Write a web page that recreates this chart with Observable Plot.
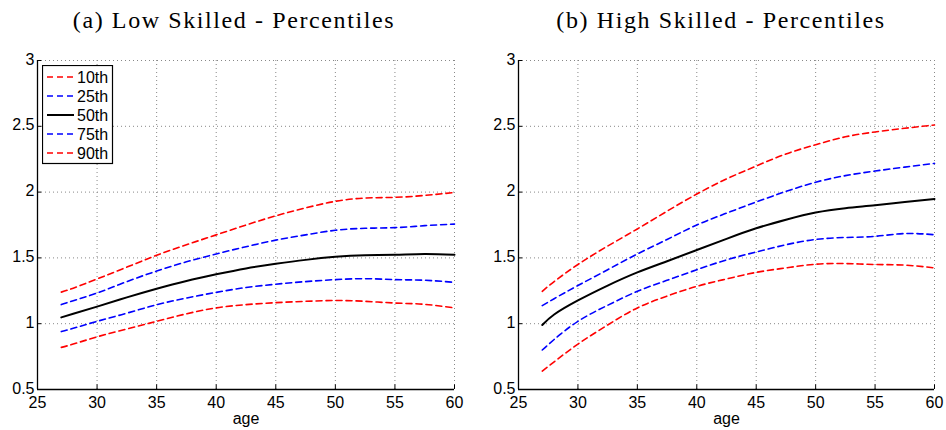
<!DOCTYPE html>
<html><head><meta charset="utf-8">
<script src="https://cdn.jsdelivr.net/npm/d3@7"></script>
<script src="https://cdn.jsdelivr.net/npm/@observablehq/plot@0.6"></script>
<style>
body{margin:0;background:#fff;}
#wrap{position:relative;width:946px;height:430px;overflow:hidden;background:#fff;}
.title{position:absolute;top:8px;line-height:24px;font-family:"Liberation Serif","Times New Roman",serif;font-size:24px;letter-spacing:1.6px;white-space:nowrap;color:#000;transform:translateX(-50%);}
.panel{position:absolute;top:45px;}
.legend{position:absolute;left:42px;top:65px;}
</style></head><body>
<div id="wrap"></div>
<script>
const ages = [27,28,30,32.5,35,37.5,40,42.5,45,47.5,50,52.5,55,57.5,60];
const percentiles = ["10th","25th","50th","75th","90th"];
const pctColors = ["#ff0000","#0000ff","#000000","#0000ff","#ff0000"];
const titles = ["(a) Low Skilled - Percentiles","(b) High Skilled - Percentiles"];
const xTicks = [25,30,35,40,45,50,55,60];
const yTicks = [0.5,1,1.5,2,2.5,3];

// Low skilled
const low10 = [0.82,0.845,0.90,0.96,1.018,1.075,1.12,1.145,1.16,1.17,1.176,1.17,1.157,1.147,1.12];
const low25 = [0.94,0.965,1.018,1.08,1.144,1.195,1.238,1.275,1.30,1.32,1.335,1.342,1.335,1.33,1.314];
const low50 = [1.048,1.075,1.13,1.20,1.266,1.325,1.375,1.42,1.455,1.485,1.508,1.52,1.524,1.53,1.524];
const low75 = [1.145,1.175,1.233,1.32,1.40,1.47,1.53,1.585,1.635,1.675,1.71,1.725,1.73,1.745,1.757];
const low90 = [1.24,1.27,1.34,1.43,1.52,1.60,1.675,1.75,1.82,1.88,1.93,1.955,1.96,1.975,1.997];

// High skilled
const high10 = [0.64,0.71,0.845,0.99,1.12,1.21,1.284,1.34,1.39,1.424,1.452,1.457,1.45,1.445,1.424];
const high25 = [0.80,0.88,1.018,1.14,1.246,1.33,1.41,1.485,1.545,1.60,1.64,1.655,1.664,1.685,1.676];
const high50 = [0.99,1.07,1.177,1.29,1.39,1.475,1.56,1.645,1.725,1.79,1.845,1.878,1.90,1.925,1.948];
const high75 = [1.137,1.19,1.29,1.41,1.53,1.64,1.75,1.84,1.925,2.005,2.075,2.125,2.16,2.19,2.218];
const high90 = [1.246,1.32,1.45,1.59,1.72,1.855,1.985,2.10,2.198,2.29,2.36,2.42,2.457,2.485,2.51];

const panels = [
  {series:[low10,low25,low50,low75,low90], left:0, width:473, ml:37, mr:19, titleX:234},
  {series:[high10,high25,high50,high75,high90], left:473, width:473, ml:45, mr:12, titleX:721}
];

const wrap = document.getElementById("wrap");

panels.forEach((p, pi) => {
  const t = document.createElement("div");
  t.className = "title";
  t.textContent = titles[pi];
  t.style.left = p.titleX + "px";
  wrap.appendChild(t);

  const rows = [];
  p.series.forEach((vals, si) => vals.forEach((v, i) => rows.push({age: ages[i], value: v, pct: percentiles[si]})));

  const lineMarks = percentiles.map((pc, si) => Plot.line(rows.filter(d => d.pct === pc), {
    x: "age", y: "value", stroke: pctColors[si], curve: "natural",
    strokeWidth: pc === "50th" ? 2 : 1.6,
    strokeDasharray: pc === "50th" ? null : "6,4"
  }));

  const chart = Plot.plot({
    width: p.width, height: 385,
    marginLeft: p.ml, marginRight: p.mr, marginTop: 15, marginBottom: 41,
    style: {fontFamily: "'Liberation Sans', Arial, sans-serif", fontSize: "16px", color: "#000", background: "transparent"},
    x: {domain: [25, 60]},
    y: {domain: [0.5, 3]},
    marks: [
      Plot.gridX(xTicks, {stroke: "#888", strokeOpacity: 1, strokeDasharray: "1,3"}),
      Plot.gridY(yTicks, {stroke: "#888", strokeOpacity: 1, strokeDasharray: "1,3"}),
      ...lineMarks,
      Plot.ruleX(xTicks, {y1: 0.5, y2: 0.535, stroke: "#000"}),
      Plot.ruleY(yTicks, {x1: 25, x2: 25.35, stroke: "#000"}),
      Plot.ruleX([25], {y1: 0.5, y2: 3, stroke: "#000", strokeWidth: 1.3}),
      Plot.ruleY([0.5], {x1: 25, x2: 60, stroke: "#000", strokeWidth: 1.3}),
      Plot.axisX(xTicks, {tickSize: 0, tickPadding: 7, label: "age", labelAnchor: "center", labelArrow: "none", labelOffset: 34, fontSize: 16}),
      Plot.axisY(yTicks, {tickSize: 0, tickPadding: 3, label: null, tickFormat: d => String(d), fontSize: 16, dy: -1})
    ]
  });
  const holder = document.createElement("div");
  holder.className = "panel";
  holder.style.left = p.left + "px";
  holder.appendChild(chart);
  wrap.appendChild(holder);
});

// legend (left panel)
const leg = d3.select(wrap).append("svg").attr("class", "legend")
  .attr("width", 72).attr("height", 100);
leg.append("rect").attr("x", 0.5).attr("y", 0.5).attr("width", 70).attr("height", 98)
  .attr("fill", "#fff").attr("stroke", "#000").attr("stroke-width", 1.2);
percentiles.forEach((pc, i) => {
  const cy = 12 + i * 19;
  leg.append("line").attr("x1", 5).attr("x2", 32).attr("y1", cy).attr("y2", cy)
    .attr("stroke", pctColors[i]).attr("stroke-width", pc === "50th" ? 2 : 1.6)
    .attr("stroke-dasharray", pc === "50th" ? null : "6,4");
  leg.append("text").attr("x", 35).attr("y", cy + 5.5).text(pc)
    .attr("font-family", "'Liberation Sans', Arial, sans-serif").attr("font-size", 16).attr("fill", "#000");
});
</script>
</body></html>
